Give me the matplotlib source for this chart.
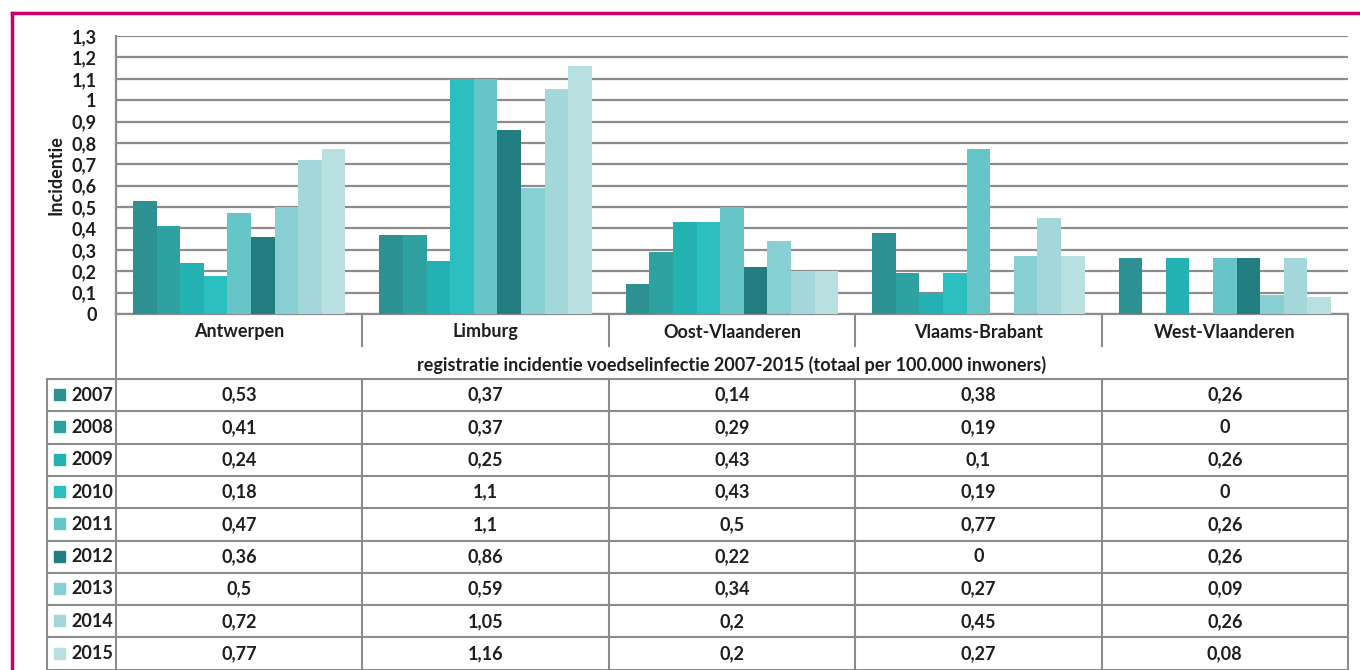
import matplotlib.pyplot as plt
import numpy as np

plt.rcParams['font.family'] = ['Lato', 'DejaVu Sans']

# data
provinces = ['Antwerpen', 'Limburg', 'Oost-Vlaanderen', 'Vlaams-Brabant', 'West-Vlaanderen']
years = ['2007', '2008', '2009', '2010', '2011', '2012', '2013', '2014', '2015']
values = [
    [0.53, 0.37, 0.14, 0.38, 0.26],   # 2007
    [0.41, 0.37, 0.29, 0.19, 0],      # 2008
    [0.24, 0.25, 0.43, 0.10, 0.26],   # 2009
    [0.18, 1.10, 0.43, 0.19, 0],      # 2010
    [0.47, 1.10, 0.50, 0.77, 0.26],   # 2011
    [0.36, 0.86, 0.22, 0, 0.26],      # 2012
    [0.50, 0.59, 0.34, 0.27, 0.09],   # 2013
    [0.72, 1.05, 0.20, 0.45, 0.26],   # 2014
    [0.77, 1.16, 0.20, 0.27, 0.08],   # 2015
]
colors = ['#2d9192', '#30a1a1', '#23b1b1', '#2bbfbf', '#66c5c6',
          '#217d7f', '#88cfd3', '#a4d7d9', '#b9e0e0']
subtitle = 'registratie incidentie voedselinfectie 2007-2015 (totaal per 100.000 inwoners)'

W, H = 1360, 670
fig = plt.figure(figsize=(W / 100, H / 100), dpi=100)

# overlay in pixel coordinates for table / frame
ov = fig.add_axes([0, 0, 1, 1])
ov.set_xlim(0, W)
ov.set_ylim(H, 0)
ov.axis('off')

x0, x1 = 116, 1348
y_top, y_base = 36, 314
ax = fig.add_axes([x0 / W, (H - y_base) / H, (x1 - x0) / W, (y_base - y_top) / H])

n = len(years)
bw = 0.862 / n
xs = np.arange(len(provinces))
for j, (yr, vals) in enumerate(zip(years, values)):
    ax.bar(xs + (j - (n - 1) / 2) * bw, vals, width=bw, color=colors[j], zorder=3)

txt = '#1e1e1e'
fs = 13
ax.set_xlim(-0.5, len(provinces) - 0.5)
ax.set_ylim(0, 1.3)
ticks = np.round(np.arange(0, 1.31, 0.1), 1)
ax.set_yticks(ticks)
ax.set_yticklabels([('%g' % t).replace('.', ',') for t in ticks],
                   fontsize=fs, fontweight='bold', color=txt)
ax.set_xticks([])
ax.tick_params(axis='y', length=0, pad=14)
ax.grid(axis='y', color='#8c8c8c', linewidth=1.6, zorder=0)
for s in ['top', 'right']:
    ax.spines[s].set_visible(False)
ax.spines['left'].set_color('#8c8c8c')
ax.spines['bottom'].set_color('#8c8c8c')
ax.spines['left'].set_linewidth(1.6)
ax.spines['bottom'].set_linewidth(1.6)
ax.set_ylabel('Incidentie', fontsize=fs, fontweight='bold', color=txt, labelpad=5)

# table
lc = '#8c8c8c'
lw = 1.5
cw = (x1 - x0) / len(provinces)
col_x = [x0 + k * cw for k in range(len(provinces) + 1)]
row0 = 379
rh = 32.3

# category label row
for k, p in enumerate(provinces):
    ov.text(col_x[k] + cw / 2, 332, p, ha='center', va='center', fontsize=fs,
            fontweight='bold', color=txt)
for cx in col_x[1:-1]:
    ov.plot([cx, cx], [y_base, 346], color=lc, lw=lw)
ov.plot([x0, x0], [y_base, H], color=lc, lw=lw)
ov.plot([x1, x1], [y_base, H], color=lc, lw=lw)
ov.text((x0 + x1) / 2, 365, subtitle, ha='center', va='center', fontsize=fs,
        fontweight='bold', color=txt)

# data rows
tl = 47
for r in range(n + 1):
    yy = row0 + r * rh
    ov.plot([tl, x1], [yy, yy], color=lc, lw=lw)
for cx in [tl] + col_x[1:-1]:
    ov.plot([cx, cx], [row0, H], color=lc, lw=lw)

for r, (yr, vals) in enumerate(zip(years, values)):
    yc = row0 + (r + 0.5) * rh
    ov.add_patch(plt.Rectangle((54, yc - 6), 11, 11, color=colors[r]))
    ov.text(71, yc, yr, ha='left', va='center', fontsize=fs,
            fontweight='bold', color=txt)
    for k, v in enumerate(vals):
        ov.text(col_x[k] + cw / 2, yc, ('%g' % v).replace('.', ','), ha='center',
                va='center', fontsize=fs, fontweight='bold', color=txt)

# magenta frame
ov.plot([12, W], [13, 13], color='#c8006e', lw=2.5)
ov.plot([12, 12], [13, H], color='#c8006e', lw=2.5)

fig.savefig('out.png', dpi=100)
